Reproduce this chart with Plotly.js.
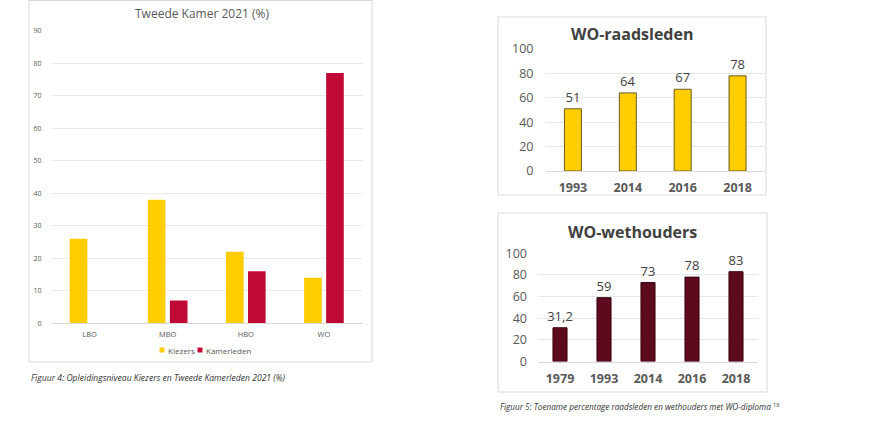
<!DOCTYPE html>
<html>
<head>
<meta charset="utf-8">
<script src="https://cdn.plot.ly/plotly-3.0.1.min.js"></script>
<style>
html,body{margin:0;padding:0;background:#fff;}
#chart{width:874px;height:433px;}
</style>
</head>
<body>
<div id="chart"></div>
<script>
// Left chart data
const levels = ['LBO', 'MBO', 'HBO', 'WO'];
const kiezers = [26, 38, 22, 14];
const kamerleden = [0, 7, 16, 77];
const seriesNames = ['Kiezers', 'Kamerleden'];

// Top right: WO-raadsleden
const raadYears = ['1993', '2014', '2016', '2018'];
const raadValues = [51, 64, 67, 78];

// Bottom right: WO-wethouders
const wethYears = ['1979', '1993', '2014', '2016', '2018'];
const wethValues = [31.2, 59, 73, 78, 83];

const W = 874, H = 433;
const px = x => x / W;
const py = y => 1 - y / H;
const fmt = v => String(v).replace('.', ',');

const FONT = 'Open Sans, Liberation Sans, sans-serif';
const YELLOW = '#FFCD00';
const RED = '#C00A35';
const MAROON = '#5E0A1E';
const seriesColors = [YELLOW, RED];

const traces = [
  {type:'bar', name:seriesNames[0], x:levels, y:kiezers, xaxis:'x', yaxis:'y',
   marker:{color:YELLOW}, hoverinfo:'none'},
  {type:'bar', name:seriesNames[1], x:levels, y:kamerleden, xaxis:'x', yaxis:'y',
   marker:{color:RED}, hoverinfo:'none'},
  {type:'bar', name:'raad', x:raadYears, y:raadValues, xaxis:'x2', yaxis:'y2',
   width:0.31, offset:-0.155,
   marker:{color:YELLOW, line:{color:'#6b5a20', width:1}},
   text:raadValues.map(fmt), textposition:'outside', cliponaxis:false, constraintext:'none',
   textfont:{family:FONT, size:13, color:'#404040'}, hoverinfo:'none'},
  {type:'bar', name:'weth', x:wethYears, y:wethValues, xaxis:'x3', yaxis:'y3',
   width:0.32, offset:-0.16,
   marker:{color:MAROON, line:{color:'#3a0512', width:1}},
   text:wethValues.map(fmt), textposition:'outside', cliponaxis:false, constraintext:'none',
   textfont:{family:FONT, size:13, color:'#404040'}, hoverinfo:'none'}
];

// hand-placed legend keys for the left chart (small squares as in the reference)
const legendX = [162, 200];
const legendShapes = seriesNames.map((n, i) => ({
  type:'rect', xref:'paper', yref:'paper',
  x0:px(legendX[i] - 2.5), x1:px(legendX[i] + 2.5), y0:py(352.5), y1:py(347.5),
  fillcolor:seriesColors[i], line:{width:0}
}));
const legendTexts = seriesNames.map((n, i) => ({
  text:n, xref:'paper', yref:'paper', x:px(legendX[i] + 4), y:py(350.3),
  xanchor:'left', yanchor:'middle', showarrow:false, font:{size:8, color:'#595959'}
}));

const boxLine = {color:'#d9d9d9', width:1};
const layout = {
  width:W, height:H,
  margin:{l:0, r:0, t:0, b:0},
  paper_bgcolor:'#fff', plot_bgcolor:'rgba(0,0,0,0)',
  font:{family:FONT, color:'#595959'},
  barmode:'group', bargap:0.436, bargroupgap:0.2,
  showlegend:false,
  xaxis:{domain:[px(50.5), px(363)], anchor:'y', type:'category', showgrid:false, zeroline:false,
         showline:true, linecolor:'#d9d9d9', linewidth:1,
         tickfont:{size:7.5, color:'#595959'}, ticks:'', ticklabelstandoff:4, fixedrange:true},
  yaxis:{domain:[py(323.3), py(30.7)], anchor:'x', range:[0, 90], dtick:10,
         showgrid:true, gridcolor:'#ebebeb', zeroline:false, showline:false,
         tickfont:{size:7, color:'#595959'}, ticks:'', ticklabelstandoff:8, fixedrange:true},
  xaxis2:{domain:[px(545.5), px(765)], anchor:'y2', type:'category', showgrid:false, zeroline:false,
          showline:true, linecolor:'#d9d9d9', linewidth:1,
          tickfont:{size:12.5, color:'#595959', weight:'bold'}, ticks:'', ticklabelstandoff:5, fixedrange:true},
  yaxis2:{domain:[py(171), py(49)], anchor:'x2', range:[0, 100], dtick:20,
          showgrid:true, gridcolor:'#e6e6e6', zeroline:false, showline:false,
          tickfont:{size:12.5, color:'#595959'}, ticks:'', ticklabelstandoff:11, fixedrange:true},
  xaxis3:{domain:[px(538), px(758)], anchor:'y3', type:'category', showgrid:false, zeroline:false,
          showline:true, linecolor:'#d9d9d9', linewidth:1,
          tickfont:{size:12.5, color:'#595959', weight:'bold'}, ticks:'', ticklabelstandoff:5, fixedrange:true},
  yaxis3:{domain:[py(361.5), py(253.3)], anchor:'x3', range:[0, 100], dtick:20,
          showgrid:true, gridcolor:'#e6e6e6', zeroline:false, showline:false,
          tickfont:{size:12.5, color:'#595959'}, ticks:'', ticklabelstandoff:10, fixedrange:true},
  shapes:[
    {type:'rect', xref:'paper', yref:'paper', x0:px(29), x1:px(372), y0:py(362), y1:py(0.5), line:boxLine},
    {type:'rect', xref:'paper', yref:'paper', x0:px(498), x1:px(766), y0:py(195), y1:py(17), line:boxLine},
    {type:'rect', xref:'paper', yref:'paper', x0:px(498), x1:px(767), y0:py(392), y1:py(213), line:boxLine}
  ].concat(legendShapes),
  annotations:[
    {text:'Tweede Kamer 2021 (%)', xref:'paper', yref:'paper', x:px(202), y:py(14),
     xanchor:'center', yanchor:'middle', showarrow:false, font:{size:12, color:'#595959'}},
    {text:'<b>WO-raadsleden</b>', xref:'paper', yref:'paper', x:px(632), y:py(34),
     xanchor:'center', yanchor:'middle', showarrow:false, font:{size:16, color:'#404040'}},
    {text:'<b>WO-wethouders</b>', xref:'paper', yref:'paper', x:px(632), y:py(232),
     xanchor:'center', yanchor:'middle', showarrow:false, font:{size:16, color:'#404040'}},
    {text:'<i>Figuur 4: Opleidingsniveau Kiezers en Tweede Kamerleden 2021 (%)</i>', xref:'paper', yref:'paper',
     x:px(29), y:py(378), xanchor:'left', yanchor:'middle', showarrow:false, font:{size:8.6, color:'#333333'}},
    {text:'<i>Figuur 5: Toename percentage raadsleden en wethouders met WO-diploma</i> <sup>18</sup>', xref:'paper', yref:'paper',
     x:px(498), y:py(406), xanchor:'left', yanchor:'middle', showarrow:false, font:{size:8.2, color:'#333333'}}
  ].concat(legendTexts)
};

Plotly.newPlot('chart', traces, layout, {staticPlot:true, displayModeBar:false});
</script>
</body>
</html>
